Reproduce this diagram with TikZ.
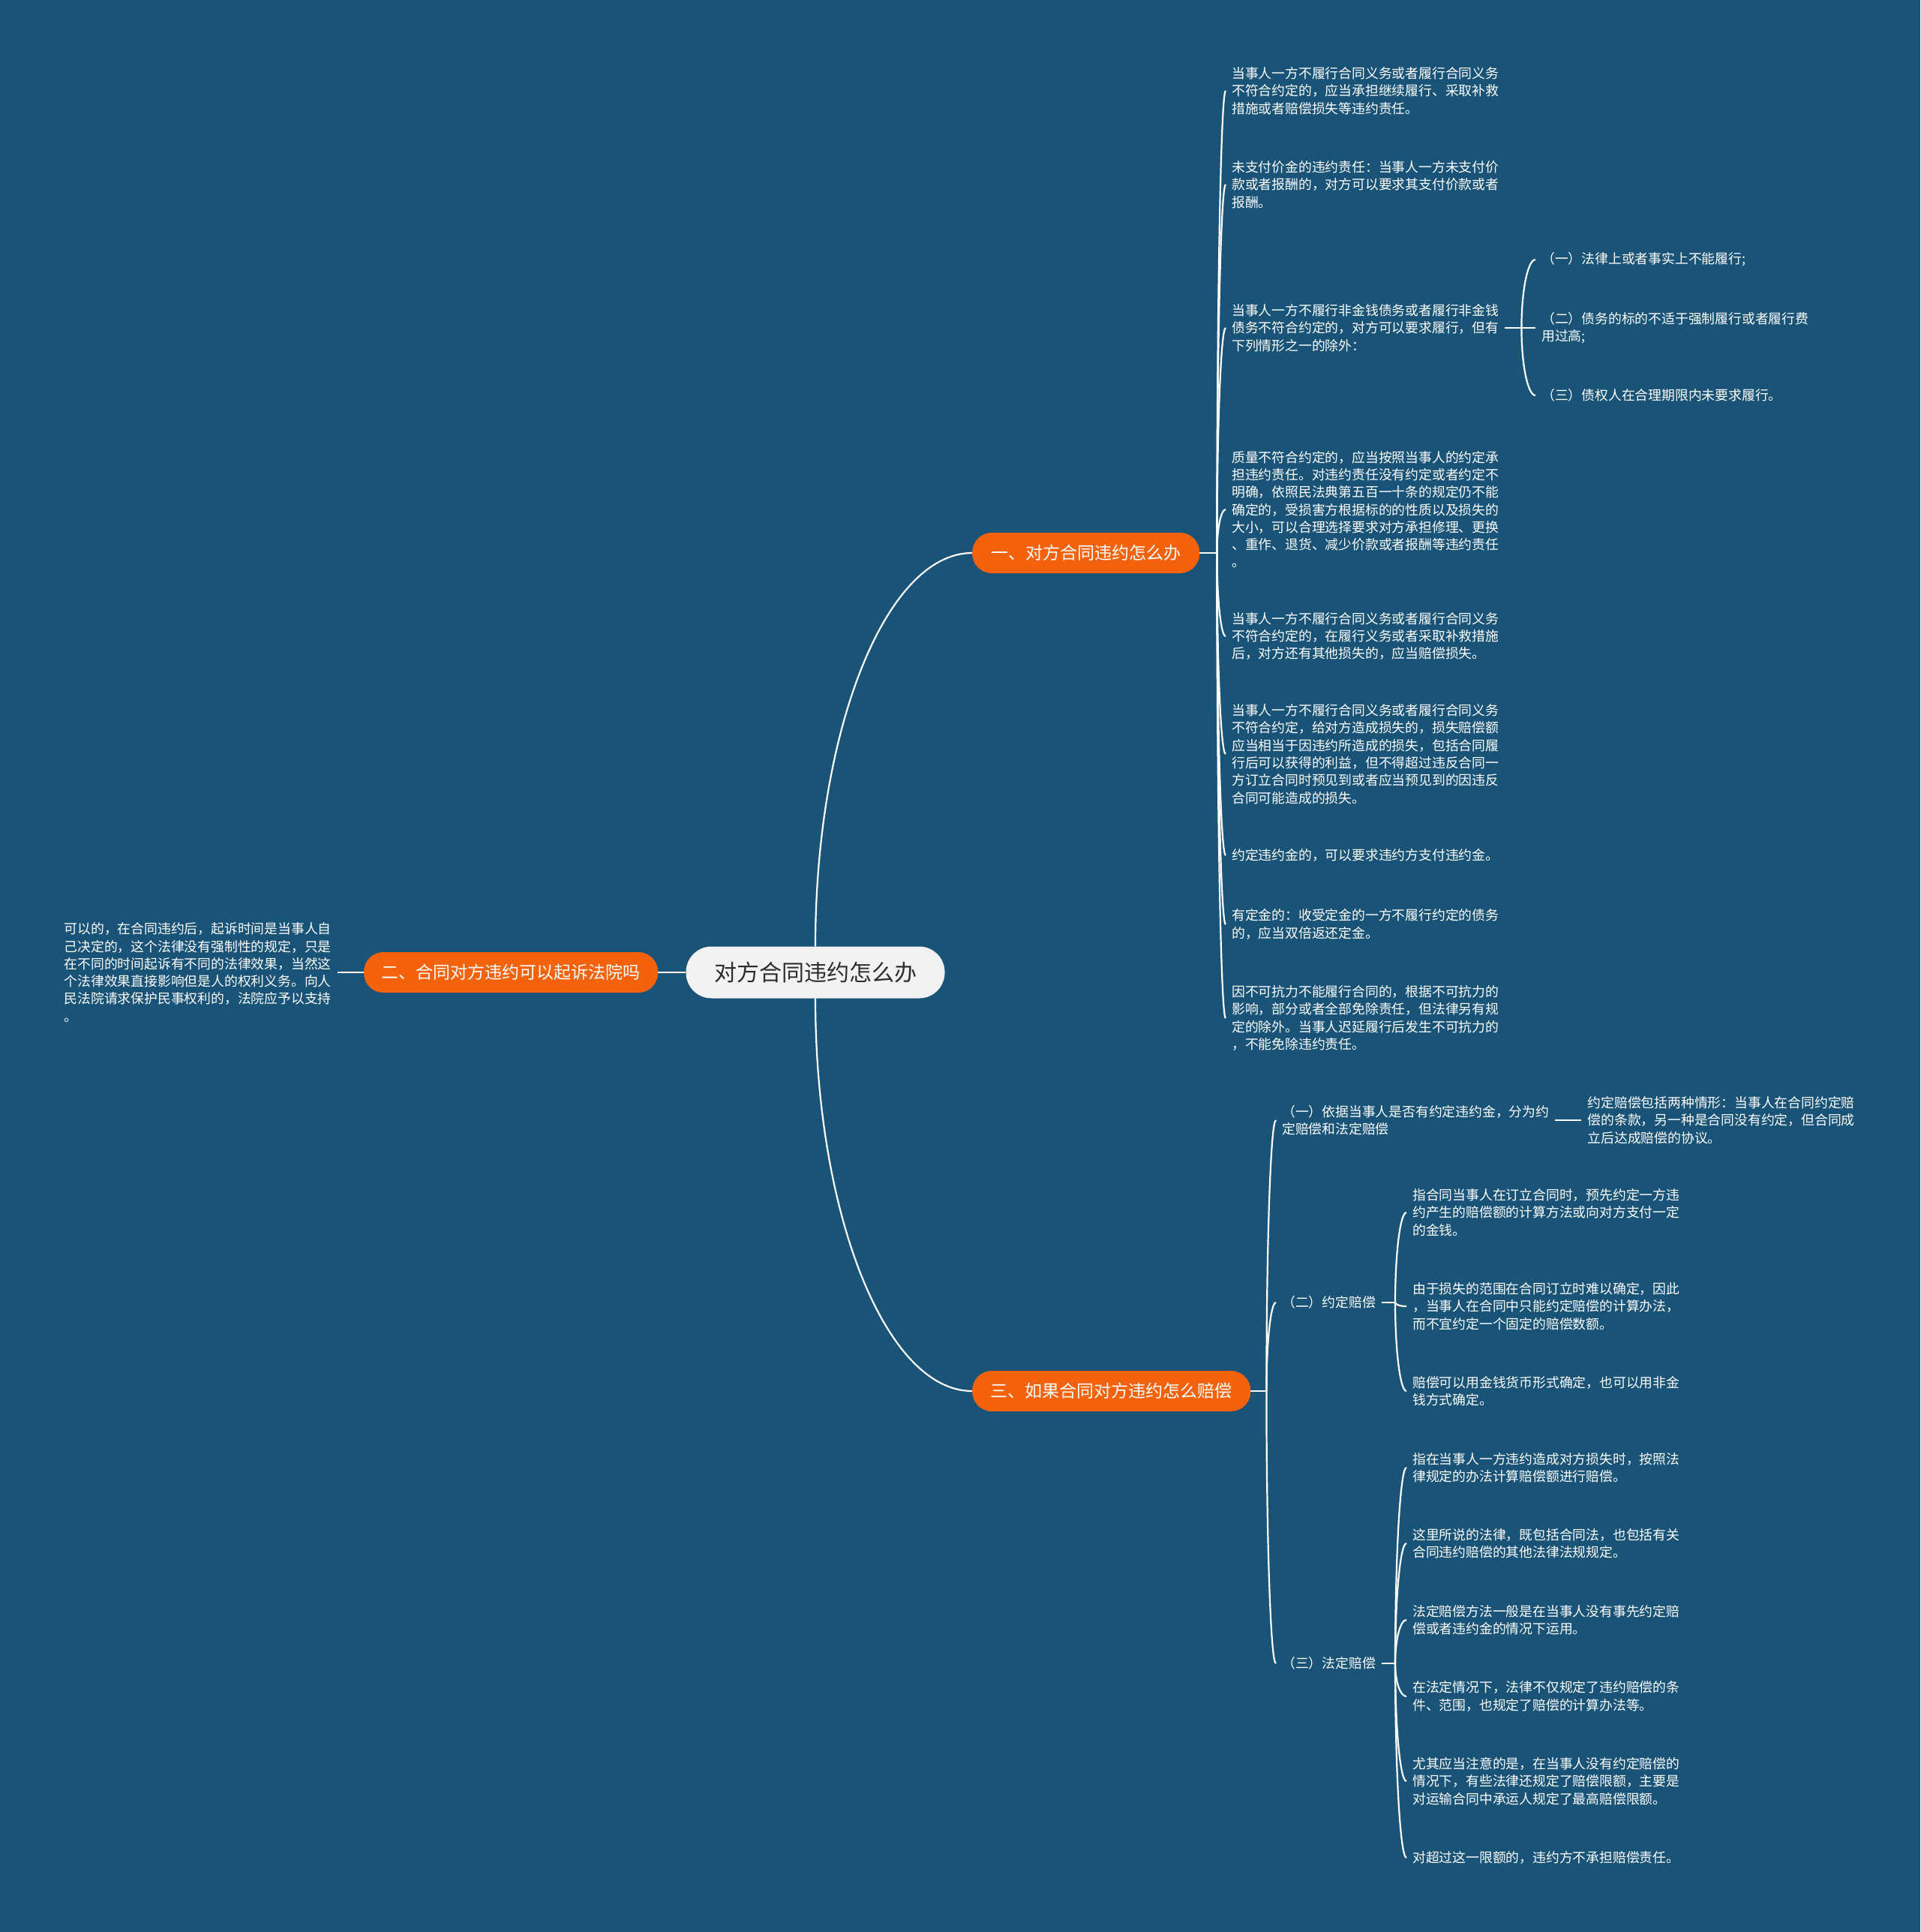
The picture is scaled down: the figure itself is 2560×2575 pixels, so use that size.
\documentclass[tikz,border=0pt]{standalone}
\usepackage{fontspec}
\setmainfont{Noto Sans CJK SC}
\usetikzlibrary{positioning,calc}
\definecolor{mapblue}{RGB}{25,83,120}
\definecolor{maporange}{RGB}{245,98,12}
\definecolor{rootgray}{RGB}{242,242,242}
\definecolor{rootink}{RGB}{45,45,45}

\begin{document}
\begin{tikzpicture}[x=1pt,y=-1pt,node distance=35pt]
  \tikzstyle{centre}=[fill=rootgray,rounded corners=34pt,minimum width=345pt,minimum height=69pt,
    text=rootink,font=\fontsize{30}{36}\selectfont]
  \tikzstyle{branch}=[fill=maporange,rounded corners=26pt,minimum height=54pt,
    text=white,font=\fontsize{23}{28}\selectfont]
  \tikzstyle{leaf}=[text=white,align=left,anchor=west,inner xsep=8pt,inner ysep=0pt,
    font=\fontsize{17.8}{23.3}\selectfont]
  \tikzstyle{link}=[draw=white,line width=2.2pt]
  \tikzstyle{twig}=[to path={.. controls ($(\tikztostart)!0.55!(\tikztostart|-\tikztotarget)$)
    and ($(\tikztotarget)!0.55!(\tikztostart|-\tikztotarget)$) .. (\tikztotarget)}]

  \fill[mapblue] (0,0) rectangle (2560,2575);
  \useasboundingbox (0,0) rectangle (2560,2575);

  % centre and main branches
  \node[centre] (root) at (1087,1296) {对方合同违约怎么办};
  \node[branch,anchor=west,minimum width=303pt] (q1) at (1296,737) {一、对方合同违约怎么办};
  \node[branch,left=37pt of root,minimum width=392pt] (q2) {二、合同对方违约可以起诉法院吗};
  \node[branch,anchor=west,minimum width=371pt] (q3) at (1296,1854) {三、如果合同对方违约怎么赔偿};

  % branch 1
  \node[leaf] (a1) at (1634,121) {当事人一方不履行合同义务或者履行合同义务\\不符合约定的，应当承担继续履行、采取补救\\措施或者赔偿损失等违约责任。};
  \node[leaf] (a2) at (1634,246) {未支付价金的违约责任：当事人一方未支付价\\款或者报酬的，对方可以要求其支付价款或者\\报酬。};
  \node[leaf] (a3) at (1634,437) {当事人一方不履行非金钱债务或者履行非金钱\\债务不符合约定的，对方可以要求履行，但有\\下列情形之一的除外：};
  \node[leaf] (a4) at (1634,679) {质量不符合约定的，应当按照当事人的约定承\\担违约责任。对违约责任没有约定或者约定不\\明确，依照民法典第五百一十条的规定仍不能\\确定的，受损害方根据标的的性质以及损失的\\大小，可以合理选择要求对方承担修理、更换\\、重作、退货、减少价款或者报酬等违约责任\\。};
  \node[leaf] (a5) at (1634,848) {当事人一方不履行合同义务或者履行合同义务\\不符合约定的，在履行义务或者采取补救措施\\后，对方还有其他损失的，应当赔偿损失。};
  \node[leaf] (a6) at (1634,1005) {当事人一方不履行合同义务或者履行合同义务\\不符合约定，给对方造成损失的，损失赔偿额\\应当相当于因违约所造成的损失，包括合同履\\行后可以获得的利益，但不得超过违反合同一\\方订立合同时预见到或者应当预见到的因违反\\合同可能造成的损失。};
  \node[leaf] (a7) at (1634,1140) {约定违约金的，可以要求违约方支付违约金。};
  \node[leaf] (a8) at (1634,1232) {有定金的：收受定金的一方不履行约定的债务\\的，应当双倍返还定金。};
  \node[leaf] (a9) at (1634,1357) {因不可抗力不能履行合同的，根据不可抗力的\\影响，部分或者全部免除责任，但法律另有规\\定的除外。当事人迟延履行后发生不可抗力的\\，不能免除违约责任。};
  \node[leaf] (a31) at (2047,346) {（一）法律上或者事实上不能履行;};
  \node[leaf] (a32) at (2047,437) {（二）债务的标的不适于强制履行或者履行费\\用过高;};
  \node[leaf] (a33) at (2047,527) {（三）债权人在合理期限内未要求履行。};

  % branch 2
  \node[leaf,left=35pt of q2] (b1) {可以的，在合同违约后，起诉时间是当事人自\\己决定的，这个法律没有强制性的规定，只是\\在不同的时间起诉有不同的法律效果，当然这\\个法律效果直接影响但是人的权利义务。向人\\民法院请求保护民事权利的，法院应予以支持\\。};

  % branch 3
  \node[leaf] (c1) at (1701,1493) {（一）依据当事人是否有约定违约金，分为约\\定赔偿和法定赔偿};
  \node[leaf,right=35pt of c1] (c11) {约定赔偿包括两种情形：当事人在合同约定赔\\偿的条款，另一种是合同没有约定，但合同成\\立后达成赔偿的协议。};
  \node[leaf] (c2) at (1701,1736) {（二）约定赔偿};
  \node[leaf] (c21) at (1875,1616) {指合同当事人在订立合同时，预先约定一方违\\约产生的赔偿额的计算方法或向对方支付一定\\的金钱。};
  \node[leaf] (c22) at (1875,1741) {由于损失的范围在合同订立时难以确定，因此\\，当事人在合同中只能约定赔偿的计算办法，\\而不宜约定一个固定的赔偿数额。};
  \node[leaf] (c23) at (1875,1854) {赔偿可以用金钱货币形式确定，也可以用非金\\钱方式确定。};
  \node[leaf] (c3) at (1701,2217) {（三）法定赔偿};
  \node[leaf] (c31) at (1875,1956) {指在当事人一方违约造成对方损失时，按照法\\律规定的办法计算赔偿额进行赔偿。};
  \node[leaf] (c32) at (1875,2057) {这里所说的法律，既包括合同法，也包括有关\\合同违约赔偿的其他法律法规规定。};
  \node[leaf] (c33) at (1875,2159) {法定赔偿方法一般是在当事人没有事先约定赔\\偿或者违约金的情况下运用。};
  \node[leaf] (c34) at (1875,2261) {在法定情况下，法律不仅规定了违约赔偿的条\\件、范围，也规定了赔偿的计算办法等。};
  \node[leaf] (c35) at (1875,2374) {尤其应当注意的是，在当事人没有约定赔偿的\\情况下，有些法律还规定了赔偿限额，主要是\\对运输合同中承运人规定了最高赔偿限额。};
  \node[leaf] (c36) at (1875,2476) {对超过这一限额的，违约方不承担赔偿责任。};

  % connectors
  \draw[link] (root.north) to[twig] (q1.west);
  \draw[link] (root.south) to[twig] (q3.west);
  \draw[link] (root) -- (q2);
  \draw[link] (q2) -- (b1);

  \coordinate[right=23pt of q1] (j1);
  \draw[link] (q1) -- (j1);
  \foreach \i in {1,...,9} \draw[link] (j1) to[twig] (a\i.west);
  \coordinate[right=22pt of a3] (ja3);
  \draw[link] (a3) -- (ja3);
  \foreach \i in {1,2,3} \draw[link] (ja3) to[twig] (a3\i.west);

  \coordinate[right=21pt of q3] (j3);
  \draw[link] (q3) -- (j3);
  \foreach \i in {1,2,3} \draw[link] (j3) to[twig] (c\i.west);
  \draw[link] (c1) -- (c11);
  \coordinate[right=18pt of c2] (jc2);
  \draw[link] (c2) -- (jc2);
  \foreach \i in {1,2,3} \draw[link] (jc2) to[twig] (c2\i.west);
  \coordinate[right=18pt of c3] (jc3);
  \draw[link] (c3) -- (jc3);
  \foreach \i in {1,...,6} \draw[link] (jc3) to[twig] (c3\i.west);
\end{tikzpicture}
\end{document}
